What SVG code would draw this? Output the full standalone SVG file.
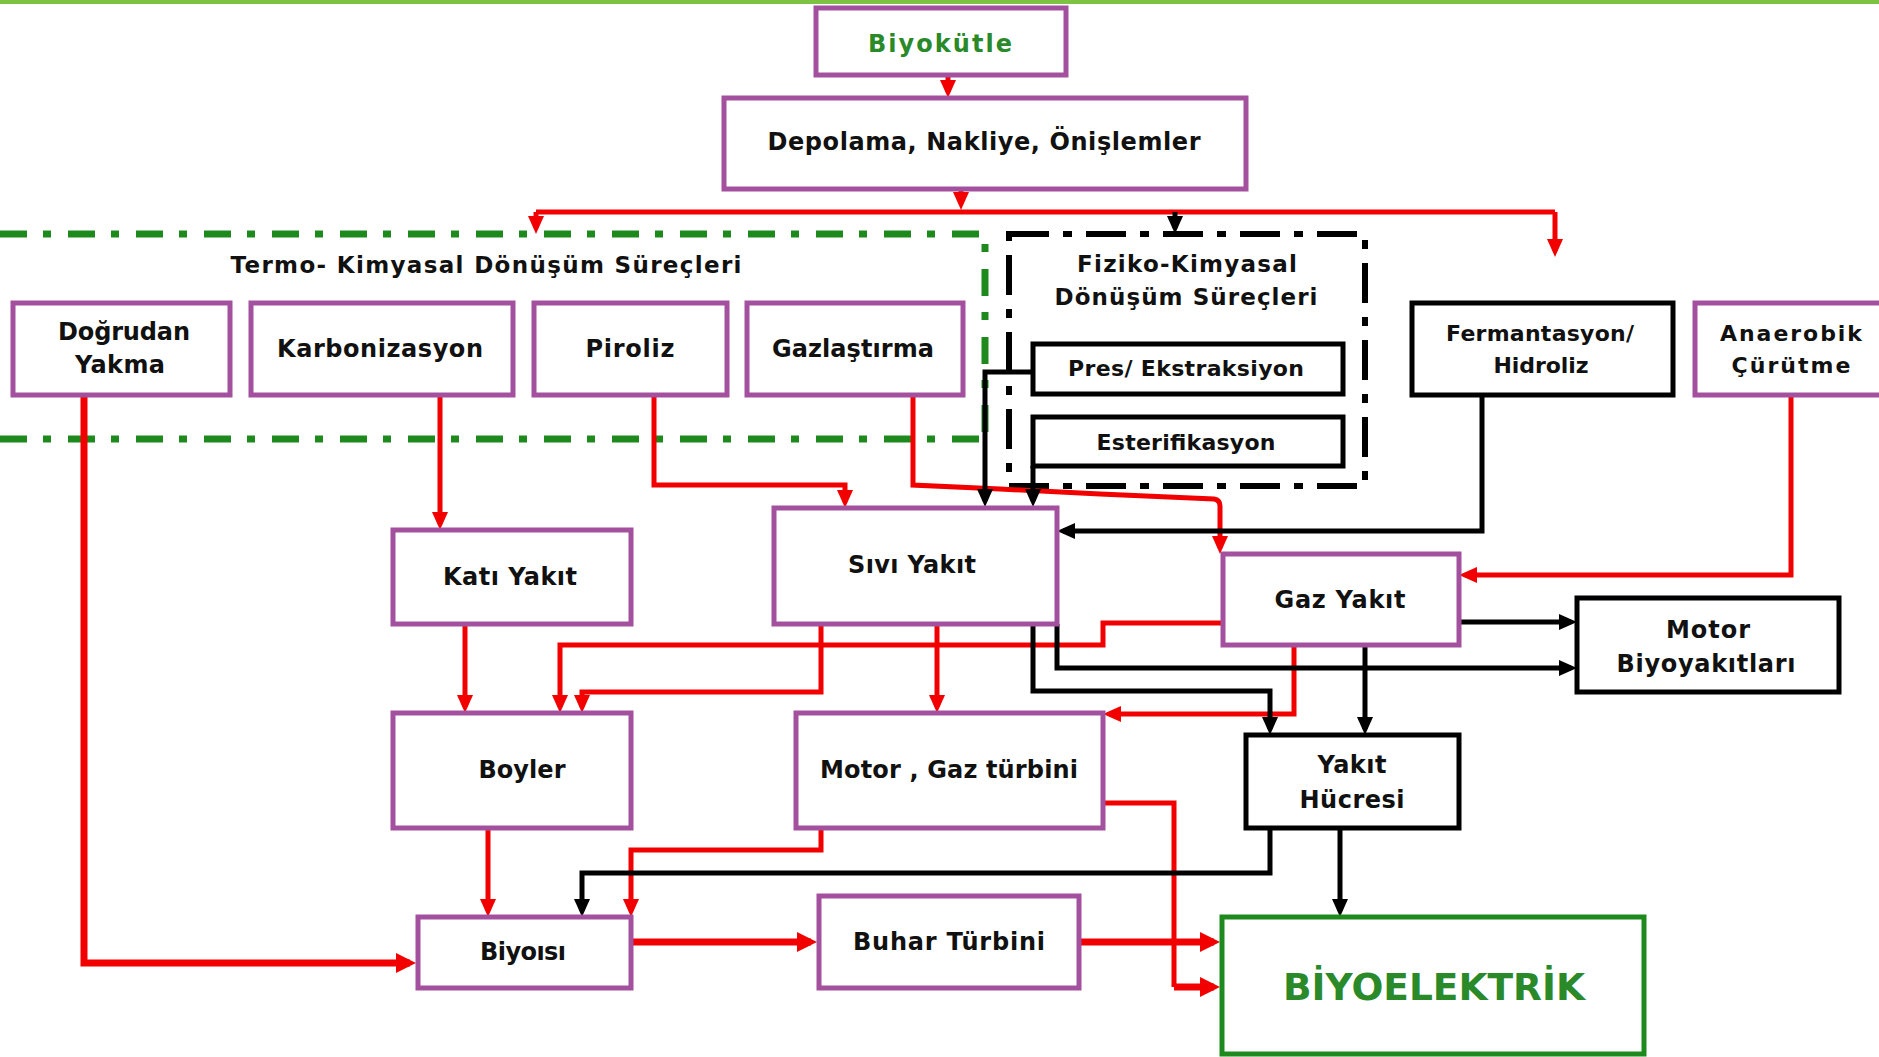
<svg xmlns="http://www.w3.org/2000/svg" width="1879" height="1057" viewBox="0 0 1879 1057">
<defs>
<style>
.pb{fill:#fff;stroke:#A3509F;stroke-width:5}
.kb{fill:#fff;stroke:#000;stroke-width:5}
.t{font-family:"DejaVu Sans","Liberation Sans",sans-serif;font-weight:bold;font-size:24px;fill:#111;text-anchor:middle}
.s{font-size:22px}
.r{stroke:#F20000;stroke-width:5;fill:none;marker-end:url(#ar)}
.rt{stroke:#F20000;stroke-width:7;fill:none;marker-end:url(#arb)}
.rn{stroke:#F20000;stroke-width:5;fill:none}
.k{stroke:#000;stroke-width:5;fill:none;marker-end:url(#ak)}
.gd{fill:none;stroke:#1E8A1E;stroke-width:7;stroke-dasharray:27 16 8 17}
</style>
<marker id="ar" markerUnits="userSpaceOnUse" markerWidth="18" markerHeight="16" viewBox="0 0 18 16" refX="12" refY="8" orient="auto"><path d="M0,0 L18,8 L0,16 z" fill="#F20000"/></marker>
<marker id="arb" markerUnits="userSpaceOnUse" markerWidth="20" markerHeight="20" viewBox="0 0 20 20" refX="14" refY="10" orient="auto"><path d="M0,0 L20,10 L0,20 z" fill="#F20000"/></marker>
<marker id="ak" markerUnits="userSpaceOnUse" markerWidth="18" markerHeight="16" viewBox="0 0 18 16" refX="12" refY="8" orient="auto"><path d="M0,0 L18,8 L0,16 z" fill="#000"/></marker>
</defs>
<rect x="0" y="0" width="1879" height="1057" fill="#fff"/>
<rect x="0" y="0" width="1879" height="4" fill="#7DC242"/>

<g id="groups">
<path class="gd" d="M0,234 H985 V439"/>
<path class="gd" d="M0,439 H982"/>
<path d="M1009,234 H1365 V486 H1009 Z" fill="none" stroke="#000" stroke-width="6" stroke-dasharray="40 14 9 14"/>
<text class="t" x="486" y="273" textLength="511" lengthAdjust="spacing" style="font-size:23px">Termo- Kimyasal Dönüşüm Süreçleri</text>
<text class="t" x="1187" y="272" textLength="220" lengthAdjust="spacing" style="font-size:23px">Fiziko-Kimyasal</text>
<text class="t" x="1186" y="305" textLength="263" lengthAdjust="spacing" style="font-size:23px">Dönüşüm Süreçleri</text>
</g>

<g id="connectors">
<path class="r" d="M948,75 V92"/>
<path class="r" d="M961,189 V204"/>
<path class="rn" d="M536,212 H1555"/>
<path class="r" d="M536,212 V228"/>
<path class="r" d="M1555,212 V251"/>
<path class="k" d="M1175,212 V228"/>
<path class="rt" d="M84,395 V963 H410"/>
<path class="r" d="M440,395 V524"/>
<path class="r" d="M654,395 V485 H845 V502"/>
<path class="r" d="M913,395 V485 L1000,489 L1100,494 L1214,499 Q1220,500 1220,506 V548"/>
<path class="r" d="M465,624 V707"/>
<path class="r" d="M821,624 V692 H582 V707"/>
<path class="r" d="M1223,623 H1103 V645 H560 V707"/>
<path class="r" d="M937,624 V707"/>
<path class="r" d="M1294,645 V714 H1109"/>
<path class="r" d="M1791,395 V575 H1465"/>
<path class="r" d="M488,828 V911"/>
<path class="r" d="M821,828 V850 H631 V911"/>
<path class="rt" d="M631,942 H811"/>
<path class="rt" d="M1079,942 H1214"/>
<path class="rn" d="M1103,803 H1174 V987"/>
<path class="rt" d="M1174,987 H1214"/>
<path class="k" d="M1033,372 H985 V501"/>
<path class="k" d="M1033,466 V501"/>
<path class="k" d="M1482,395 V531 H1063"/>
<path class="k" d="M1459,622 H1571"/>
<path class="k" d="M1057,624 V668 H1571"/>
<path class="k" d="M1033,624 V691 H1270 V729"/>
<path class="k" d="M1365,645 V729"/>
<path class="k" d="M1270,828 V873 H582 V911"/>
<path class="k" d="M1340,828 V911"/>
</g>

<g id="biyokutle"><rect class="pb" x="816" y="8" width="250" height="67"/><text class="t" x="940" y="52" textLength="144" lengthAdjust="spacing" style="fill:#2A8A2A">Biyokütle</text></g>
<g id="depolama"><rect class="pb" x="724" y="98" width="522" height="91"/><text class="t" x="984" y="150" textLength="433" lengthAdjust="spacing">Depolama, Nakliye, Önişlemler</text></g>

<g id="dogrudan"><rect class="pb" x="13" y="303" width="217" height="92"/><text class="t" x="124" y="340" textLength="132" lengthAdjust="spacing">Doğrudan</text><text class="t" x="120" y="373" textLength="90" lengthAdjust="spacing">Yakma</text></g>
<g id="karbonizasyon"><rect class="pb" x="251" y="303" width="262" height="92"/><text class="t" x="380" y="357" textLength="206" lengthAdjust="spacing">Karbonizasyon</text></g>
<g id="piroliz"><rect class="pb" x="534" y="303" width="193" height="92"/><text class="t" x="630" y="357" textLength="89" lengthAdjust="spacing">Piroliz</text></g>
<g id="gazlastirma"><rect class="pb" x="747" y="303" width="216" height="92"/><text class="t" x="853" y="357" textLength="162" lengthAdjust="spacing">Gazlaştırma</text></g>

<g id="pres"><rect class="kb" x="1033" y="344" width="310" height="50"/><text class="t s" x="1186" y="376" textLength="236" lengthAdjust="spacing">Pres/ Ekstraksiyon</text></g>
<g id="esterifikasyon"><rect class="kb" x="1033" y="417" width="310" height="49"/><text class="t s" x="1186" y="450" textLength="179" lengthAdjust="spacing">Esterifikasyon</text></g>

<g id="fermantasyon"><rect class="kb" x="1412" y="303" width="261" height="92"/><text class="t s" x="1540" y="341" textLength="188" lengthAdjust="spacing">Fermantasyon/</text><text class="t s" x="1541" y="373" textLength="95" lengthAdjust="spacing">Hidroliz</text></g>
<g id="anaerobik"><rect class="pb" x="1695" y="303" width="190" height="92"/><text class="t s" x="1791" y="341" textLength="142" lengthAdjust="spacing">Anaerobik</text><text class="t s" x="1791" y="373" textLength="119" lengthAdjust="spacing">Çürütme</text></g>

<g id="kati-yakit"><rect class="pb" x="393" y="530" width="238" height="94"/><text class="t" x="510" y="585" textLength="134" lengthAdjust="spacing">Katı Yakıt</text></g>
<g id="sivi-yakit"><rect class="pb" x="774" y="508" width="283" height="116"/><text class="t" x="912" y="573" textLength="128" lengthAdjust="spacing">Sıvı Yakıt</text></g>
<g id="gaz-yakit"><rect class="pb" x="1223" y="554" width="236" height="91"/><text class="t" x="1340" y="608" textLength="131" lengthAdjust="spacing">Gaz Yakıt</text></g>
<g id="motor-biyoyakitlari"><rect class="kb" x="1577" y="598" width="262" height="94"/><text class="t" x="1708" y="638" textLength="84" lengthAdjust="spacing">Motor</text><text class="t" x="1706" y="672" textLength="179" lengthAdjust="spacing">Biyoyakıtları</text></g>

<g id="boyler"><rect class="pb" x="393" y="713" width="238" height="115"/><text class="t" x="522" y="778" textLength="87" lengthAdjust="spacing">Boyler</text></g>
<g id="motor-gaz-turbini"><rect class="pb" x="796" y="713" width="307" height="115"/><text class="t" x="949" y="778" textLength="258" lengthAdjust="spacing">Motor , Gaz türbini</text></g>
<g id="yakit-hucresi"><rect class="kb" x="1246" y="735" width="213" height="93"/><text class="t" x="1352" y="773" textLength="69" lengthAdjust="spacing">Yakıt</text><text class="t" x="1352" y="808" textLength="105" lengthAdjust="spacing">Hücresi</text></g>

<g id="biyoisi"><rect class="pb" x="418" y="917" width="213" height="71"/><text class="t" x="523" y="960" textLength="86" lengthAdjust="spacing">Biyoısı</text></g>
<g id="buhar-turbini"><rect class="pb" x="819" y="896" width="260" height="92"/><text class="t" x="949" y="950" textLength="192" lengthAdjust="spacing">Buhar Türbini</text></g>
<g id="biyoelektrik"><rect x="1222" y="917" width="422" height="137" fill="#fff" stroke="#1E8A1E" stroke-width="5"/><text class="t" x="1434" y="1000" textLength="302" lengthAdjust="spacingAndGlyphs" style="font-size:38px;fill:#2A8A2A">BİYOELEKTRİK</text></g>
</svg>
